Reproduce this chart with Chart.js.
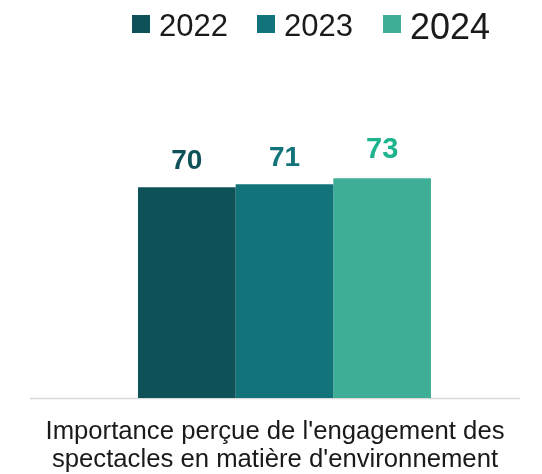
<!DOCTYPE html>
<html>
<head>
<meta charset="utf-8">
<script src="https://cdn.jsdelivr.net/npm/chart.js@4/dist/chart.umd.min.js"></script>
<style>
  html, body { margin: 0; padding: 0; background: #fff; }
</style>
</head>
<body>
<canvas id="chart" width="542" height="474"></canvas>
<script>
const categories = [["Importance perçue de l'engagement des", "spectacles en matière d'environnement"]];
const years      = ["2022", "2023", "2024"];
const values     = [[70], [71], [73]];
const barColors  = ["#0e5158", "#12737a", "#3fae97"];
const labelColors = ["#0e5158", "#12737a", "#1db38c"];

const LINE_LEFT = 30, LINE_RIGHT = 520;

// value labels above each bar
var valueLabels = {
    id: 'valueLabels',
    afterDatasetsDraw: function(chart) {
        var ctx = chart.ctx;
        chart.data.datasets.forEach(function(ds, i) {
            var meta = chart.getDatasetMeta(i);
            meta.data.forEach(function(bar, j) {
                ctx.save();
                ctx.fillStyle = labelColors[i];
                ctx.font = 'bold ' + (i == 2 ? 29 : 28) + 'px "Liberation Sans", Arial, sans-serif';
                ctx.textAlign = 'center';
                ctx.textBaseline = 'alphabetic';
                ctx.fillText(ds.data[j], bar.x, bar.y - (i == 2 ? 20 : 18));
                ctx.restore();
            });
        });
    }
};

// legend drawn by hand, last year is bigger in the source
var topLegend = {
    id: 'topLegend',
    afterDraw: function(chart) {
        var ctx = chart.ctx;
        var xs = [132, 257, 383];
        chart.data.datasets.forEach(function(ds, i) {
            ctx.save();
            ctx.fillStyle = ds.backgroundColor;
            ctx.fillRect(xs[i], 15, 18, 18);
            ctx.fillStyle = '#1a1a1a';
            ctx.font = (i == 2 ? 36 : 31) + 'px "Liberation Sans", Arial, sans-serif';
            ctx.textBaseline = 'alphabetic';
            ctx.fillText(ds.label, xs[i] + 27, i == 2 ? 39 : 36);
            ctx.restore();
        });
    }
};

// light baseline (wider than the plot area) and the category label centred under it
var baseLine = {
    id: 'baseLine',
    beforeDatasetsDraw: function(chart) {
        var ctx = chart.ctx;
        var y = chart.scales.y.getPixelForValue(0);
        ctx.save();
        ctx.strokeStyle = '#d9d9d9';
        ctx.lineWidth = 1.5;
        ctx.beginPath();
        ctx.moveTo(LINE_LEFT, y + 0.5);
        ctx.lineTo(LINE_RIGHT, y + 0.5);
        ctx.stroke();

        ctx.fillStyle = '#1a1a1a';
        ctx.font = '25.7px "Liberation Sans", Arial, sans-serif';
        ctx.textAlign = 'center';
        ctx.textBaseline = 'alphabetic';
        chart.data.labels.forEach(function(lbl) {
            lbl.forEach(function(line, k) {
                ctx.fillText(line, (LINE_LEFT + LINE_RIGHT) / 2, y + 41 + k * 28);
            });
        });
        ctx.restore();
    }
};

new Chart(document.getElementById('chart'), {
    type: 'bar',
    data: {
        labels: categories,
        datasets: years.map(function(y, i) {
            return {
                label: y,
                data: values[i],
                backgroundColor: barColors[i],
                barPercentage: 1,
                categoryPercentage: 0.622
            };
        })
    },
    options: {
        responsive: false,
        animation: false,
        layout: { padding: { top: 97, left: 49, right: 22, bottom: 0 } },
        plugins: {
            legend: { display: false },
            tooltip: { enabled: false }
        },
        scales: {
            x: {
                grid: { display: false },
                border: { display: false },
                afterFit: function(scale) { scale.height = 76; },
                ticks: { display: false }
            },
            y: {
                display: false,
                min: 0,
                max: 100
            }
        }
    },
    plugins: [baseLine, valueLabels, topLegend]
});
</script>
</body>
</html>
